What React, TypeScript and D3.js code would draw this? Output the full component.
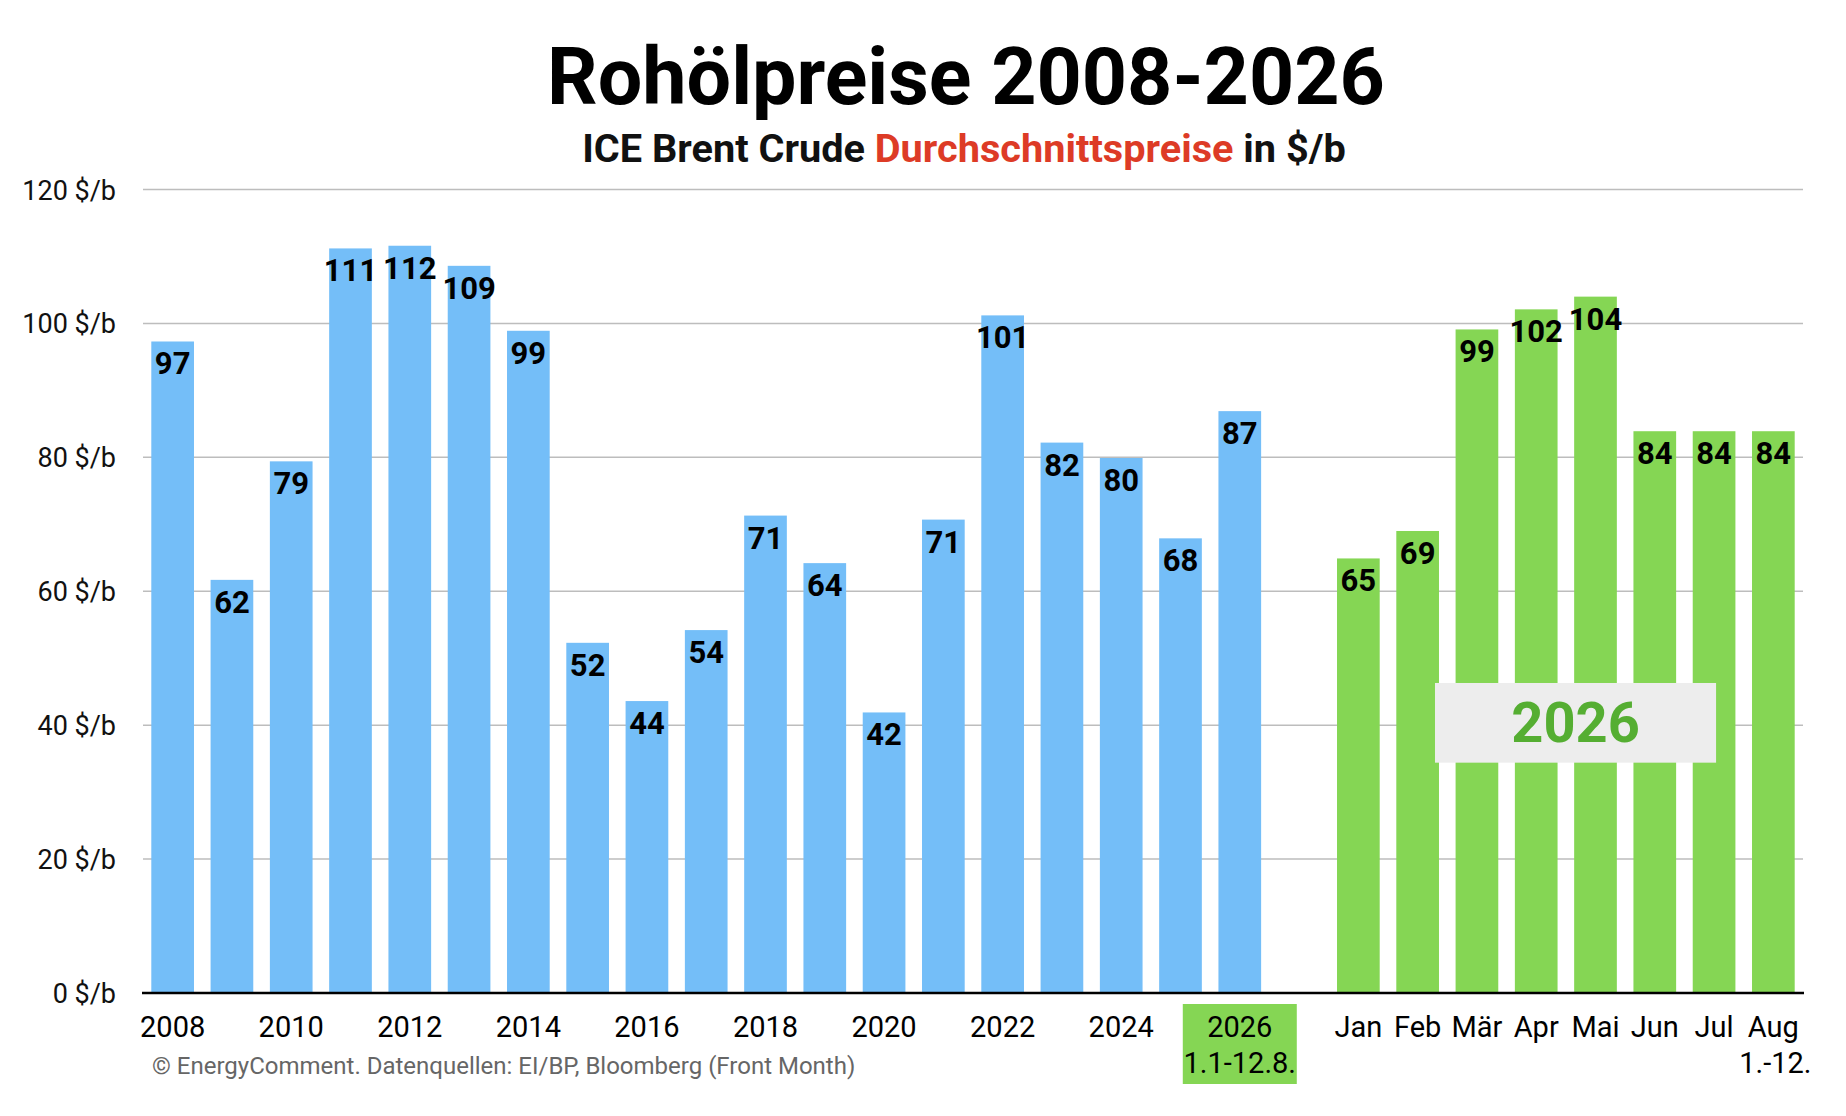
import { useEffect, useRef } from "react";
import * as d3 from "d3";

const years = [
  "2008", "2009", "2010", "2011", "2012", "2013", "2014", "2015", "2016", "2017",
  "2018", "2019", "2020", "2021", "2022", "2023", "2024", "2025", "2026",
];
const yearValues = [
  97.3, 61.7, 79.4, 111.2, 111.6, 108.6, 98.9, 52.3, 43.6, 54.2,
  71.3, 64.2, 41.9, 70.7, 101.2, 82.2, 79.9, 67.9, 86.9,
];
const months = ["Jan", "Feb", "Mär", "Apr", "Mai", "Jun", "Jul", "Aug"];
const monthValues = [64.9, 69.0, 99.1, 102.1, 104.0, 83.9, 83.9, 83.9];
const yTicks = [0, 20, 40, 60, 80, 100, 120];
const ytdLabel = "1.1-12.8.";
const augLabel = "1.-12.";

const WIDTH = 1846;
const HEIGHT = 1116;
const BLUE = "#74bef8";
const GREEN = "#85d654";
const FONT = "Roboto, 'Noto Sans', sans-serif";

export default function App() {
  const svgRef = useRef<SVGSVGElement>(null);

  useEffect(() => {
    if (!svgRef.current) return;
    document.body.style.margin = "0";

    const svg = d3.select(svgRef.current);
    svg.selectAll("*").remove();
    svg.attr("width", WIDTH).attr("height", HEIGHT).style("font-family", FONT);

    const domain = [...years, "gap", ...months];
    const x = d3
      .scaleBand<string>()
      .domain(domain)
      .range([143, 1803])
      .paddingInner(0.28)
      .paddingOuter(0.14);

    const y = d3.scaleLinear().domain([0, 120]).range([993, 189.5]);

    // Title
    svg
      .append("text")
      .attr("x", 966)
      .attr("y", 104)
      .attr("text-anchor", "middle")
      .attr("font-size", 79)
      .attr("font-weight", 700)
      .attr("fill", "#000")
      .text("Rohölpreise 2008-2026");

    const sub = svg
      .append("text")
      .attr("x", 964)
      .attr("y", 162)
      .attr("text-anchor", "middle")
      .attr("font-size", 39.7)
      .attr("font-weight", 700)
      .attr("fill", "#111");
    sub.append("tspan").text("ICE Brent Crude ");
    sub.append("tspan").attr("fill", "#dd3b26").text("Durchschnittspreise");
    sub.append("tspan").text(" in $/b");

    // Grid lines + y labels
    const grid = svg.append("g");
    yTicks.forEach((t) => {
      if (t > 0) {
        grid
          .append("line")
          .attr("x1", 143)
          .attr("x2", 1803)
          .attr("y1", y(t))
          .attr("y2", y(t))
          .attr("stroke", "#bdbdbd")
          .attr("stroke-width", 1.5);
      }
      grid
        .append("text")
        .attr("x", 116)
        .attr("y", y(t) + 10)
        .attr("text-anchor", "end")
        .attr("font-size", 27)
        .attr("fill", "#111")
        .text(`${t} $/b`);
    });

    const fmt = d3.format(".0f");
    const drawBars = (keys: string[], values: number[], color: string) => {
      const g = svg.append("g");
      g.selectAll("rect")
        .data(values)
        .enter()
        .append("rect")
        .attr("x", (_, i) => x(keys[i])!)
        .attr("y", (d) => y(d))
        .attr("width", x.bandwidth())
        .attr("height", (d) => y(0) - y(d))
        .attr("fill", color);
      g.selectAll("text")
        .data(values)
        .enter()
        .append("text")
        .attr("x", (_, i) => x(keys[i])! + x.bandwidth() / 2)
        .attr("y", (d) => y(d) + 33)
        .attr("text-anchor", "middle")
        .attr("font-size", 31)
        .attr("font-weight", 700)
        .attr("fill", "#000")
        .text((d) => fmt(d));
    };

    drawBars(years, yearValues, BLUE);
    drawBars(months, monthValues, GREEN);

    // 2026 annotation box
    const boxX0 = x("Feb")! + x.bandwidth() - 4;
    const boxX1 = x("Jul")! + x.bandwidth() / 2 + 2;
    svg
      .append("rect")
      .attr("x", boxX0)
      .attr("y", y(46.3))
      .attr("width", boxX1 - boxX0)
      .attr("height", y(34.4) - y(46.3))
      .attr("fill", "#ededed");
    svg
      .append("text")
      .attr("x", (boxX0 + boxX1) / 2)
      .attr("y", y(34.4) - 21)
      .attr("text-anchor", "middle")
      .attr("font-size", 56)
      .attr("font-weight", 700)
      .attr("fill", "#55ae32")
      .text("2026");

    // Baseline axis
    svg
      .append("line")
      .attr("x1", 142)
      .attr("x2", 1804)
      .attr("y1", y(0))
      .attr("y2", y(0))
      .attr("stroke", "#000")
      .attr("stroke-width", 2.5);

    // X labels
    const xl = svg.append("g").attr("font-size", 29).attr("fill", "#000");
    const last = years[years.length - 1];
    xl.append("rect")
      .attr("x", x(last)! + x.bandwidth() / 2 - 57)
      .attr("y", 1004)
      .attr("width", 114)
      .attr("height", 80)
      .attr("fill", GREEN);
    years.forEach((yr, i) => {
      if (i % 2 !== 0 && yr !== last) return;
      const cx = x(yr)! + x.bandwidth() / 2;
      xl.append("text")
        .attr("x", cx)
        .attr("y", 1037)
        .attr("text-anchor", "middle")
        .text(yr);
      if (yr === last) {
        xl.append("text")
          .attr("x", cx)
          .attr("y", 1073)
          .attr("text-anchor", "middle")
          .text(ytdLabel);
      }
    });
    months.forEach((m, i) => {
      const cx = x(m)! + x.bandwidth() / 2;
      xl.append("text")
        .attr("x", cx)
        .attr("y", 1037)
        .attr("text-anchor", "middle")
        .text(m);
      if (i === months.length - 1) {
        xl.append("text")
          .attr("x", cx + 2)
          .attr("y", 1073)
          .attr("text-anchor", "middle")
          .text(augLabel);
      }
    });

    // Source note
    svg
      .append("text")
      .attr("x", 152)
      .attr("y", 1074)
      .attr("font-size", 24)
      .attr("fill", "#666")
      .text("© EnergyComment. Datenquellen: EI/BP, Bloomberg (Front Month)");
  }, []);

  return <svg ref={svgRef} style={{ display: "block" }} />;
}
